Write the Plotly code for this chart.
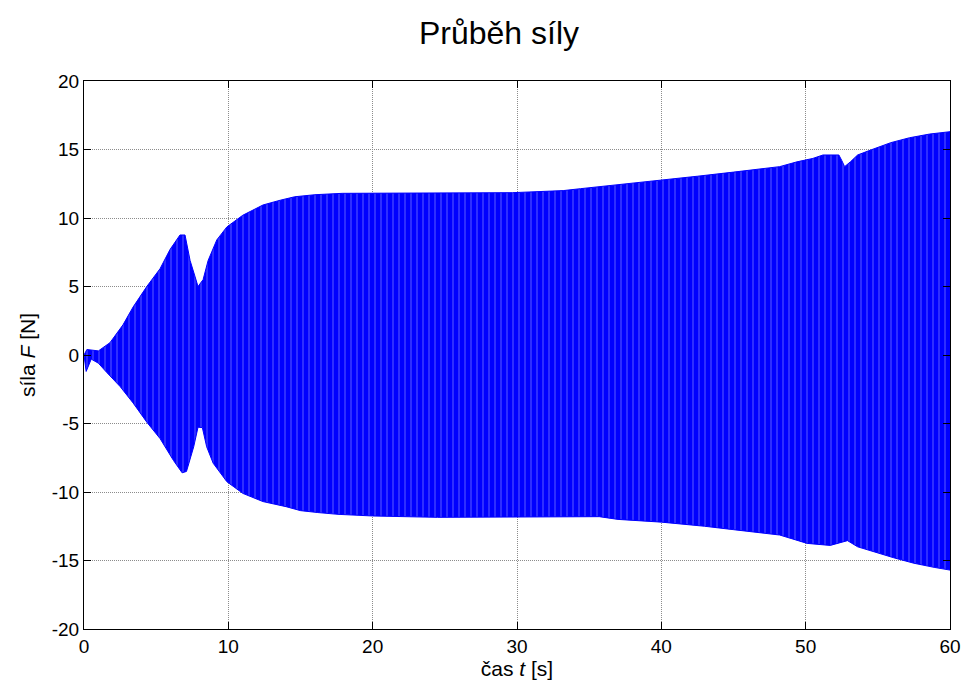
import plotly.graph_objects as go

# Upper envelope of the force signal (time s, force N)
upper_t = [0.0, 0.2, 1.0, 1.8, 2.7, 3.4, 4.35, 5.27, 5.96, 6.65, 7.0, 7.35, 7.7, 7.9, 8.25, 8.6,
           9.2, 9.9, 11.0, 12.4, 13.6, 14.6, 16.0, 17.9, 29.7, 33.2, 34.4, 35.5, 36.7, 37.8, 40.0,
           42.5, 45.0, 48.2, 49.4, 50.5, 51.2, 52.3, 52.5, 52.7, 53.1, 53.6, 54.5, 55.9, 57.2, 58.6, 60.0]
upper_f = [0.0, 0.4, 0.3, 0.9, 2.2, 3.5, 5.0, 6.3, 7.7, 8.76, 8.76, 6.9, 5.7, 5.0, 5.5, 6.9,
           8.4, 9.35, 10.2, 10.95, 11.3, 11.55, 11.7, 11.8, 11.85, 12.0, 12.14, 12.26, 12.38, 12.5, 12.75,
           13.05, 13.35, 13.75, 14.1, 14.35, 14.6, 14.6, 14.2, 13.75, 14.1, 14.6, 14.96, 15.5, 15.86, 16.13, 16.3]

# Lower envelope of the force signal
lower_t = [0.0, 0.15, 0.5, 1.0, 1.6, 2.5, 3.4, 4.35, 5.27, 6.2, 6.8, 7.1, 7.6, 7.9, 8.2, 8.5,
           8.95, 9.9, 11.0, 12.4, 14.0, 15.0, 16.2, 17.6, 20.0, 24.5, 27.0, 35.7, 37.0, 40.0, 43.0,
           45.0, 48.2, 49.2, 50.1, 51.7, 52.9, 53.6, 54.7, 56.1, 57.5, 58.9, 60.0]
lower_f = [0.0, -1.2, -0.3, -0.6, -1.3, -2.3, -3.5, -4.9, -6.1, -7.7, -8.6, -8.5, -6.7, -5.27, -5.3, -6.7,
           -7.9, -9.25, -10.1, -10.7, -11.07, -11.36, -11.5, -11.63, -11.75, -11.85, -11.8, -11.8, -12.0, -12.2, -12.5,
           -12.75, -13.14, -13.45, -13.75, -13.9, -13.55, -14.0, -14.35, -14.8, -15.2, -15.5, -15.7]

x_ticks = [0, 10, 20, 30, 40, 50, 60]
y_ticks = [-20, -15, -10, -5, 0, 5, 10, 15, 20]
y_tick_labels = ["-20", "-15", "-10", "-5", "0", "5", "10", "15", "20"]

FONT = "Arial, Liberation Sans, Helvetica, sans-serif"

band_x = upper_t + lower_t[::-1]
band_y = upper_f + lower_f[::-1]

fig = go.Figure()
fig.add_trace(go.Scatter(
    x=band_x, y=band_y, mode="lines", fill="toself",
    line=dict(color="#0000ff", width=1),
    fillcolor="#0000ff",
    fillpattern=dict(shape="|", bgcolor="#0000ff", fgcolor="#8a8aff", size=6, solidity=0.22),
    hoverinfo="skip", showlegend=False,
))

axis_common = dict(
    showline=True, linecolor="black", linewidth=1, mirror="allticks",
    ticks="inside", ticklen=7, tickcolor="black", tickwidth=1,
    showgrid=True, gridcolor="#8c8c8c", griddash="1px,1px", gridwidth=1,
    zeroline=False, automargin=False,
    tickfont=dict(family=FONT, size=19, color="black"),
)

fig.update_xaxes(range=[0, 60], tickvals=x_ticks, ticktext=[str(v) for v in x_ticks],
                 title=dict(text="čas <i>t</i> [s]", font=dict(family=FONT, size=21, color="black"), standoff=4),
                 **axis_common)
fig.update_yaxes(range=[-20, 20], tickvals=y_ticks, ticktext=y_tick_labels,
                 title=dict(text="síla <i>F</i> [N]", font=dict(family=FONT, size=21, color="black"), standoff=10),
                 **axis_common)

fig.update_layout(
    width=964, height=690,
    margin=dict(l=84, r=14, t=81, b=61),
    paper_bgcolor="white", plot_bgcolor="white",
    title=dict(text="Průběh síly", x=499 / 964, xanchor="center", y=1 - 33 / 690, yanchor="middle",
               yref="container", font=dict(family=FONT, size=32, color="black")),
    showlegend=False,
)

fig.write_html("out.html")
